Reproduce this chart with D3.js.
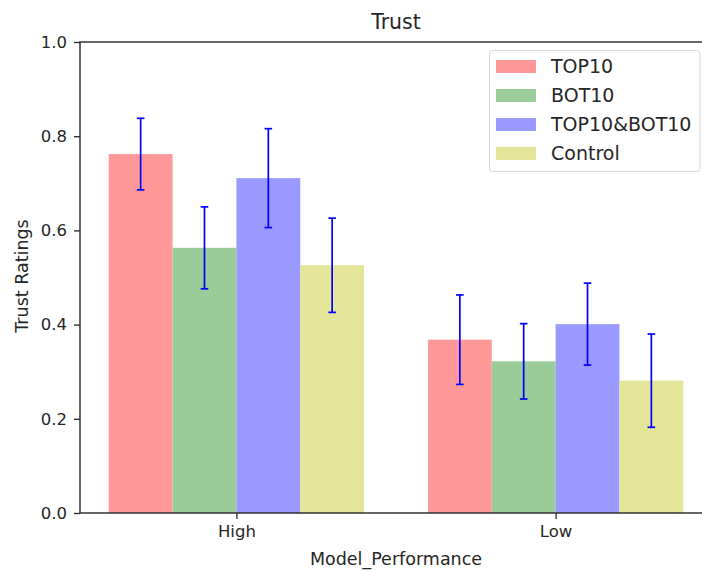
<!DOCTYPE html>
<html><head><meta charset="utf-8">
<script src="https://cdn.jsdelivr.net/npm/d3@7"></script>
<style>
html,body{margin:0;padding:0;background:#fff;}
text{font-family:"DejaVu Sans",sans-serif;fill:#262626;}
</style></head>
<body><svg id="c" width="702" height="570"></svg>
<script>
const categories = ["High", "Low"];
const seriesNames = ["TOP10", "BOT10", "TOP10&BOT10", "Control"];
const top10 = [0.762, 0.368];
const bot10 = [0.563, 0.322];
const both = [0.711, 0.401];
const control = [0.526, 0.281];
const top10Err = [0.076, 0.095];
const bot10Err = [0.087, 0.080];
const bothErr = [0.105, 0.087];
const controlErr = [0.100, 0.099];
const yTicks = [0.0, 0.2, 0.4, 0.6, 0.8, 1.0];
const colors = ["#ff9999", "#99cc99", "#9999ff", "#e5e599"];

(function () {
const values = [top10, bot10, both, control];
const errs = [top10Err, bot10Err, bothErr, controlErr];
const barW = 0.2;

const svg = d3.select("#c");
const mLeft = 80, mRight = 712, mTop = 42, mBottom = 513;
const x = d3.scaleLinear().domain([-0.49, categories.length - 1 + 0.49]).range([mLeft, mRight]);
const y = d3.scaleLinear().domain([0, 1]).range([mBottom, mTop]);

// bars
const g = svg.append("g");
seriesNames.forEach((s, j) => {
  categories.forEach((c, i) => {
    const cx = i + (j - 1.5) * barW;
    g.append("rect")
      .attr("x", x(cx - barW / 2))
      .attr("width", x(cx + barW / 2) - x(cx - barW / 2))
      .attr("y", y(values[j][i]))
      .attr("height", y(0) - y(values[j][i]))
      .attr("fill", colors[j]);
  });
});
// error bars
seriesNames.forEach((s, j) => {
  categories.forEach((c, i) => {
    const cx = x(i + (j - 1.5) * barW);
    const lo = y(values[j][i] - errs[j][i]), hi = y(values[j][i] + errs[j][i]);
    g.append("line").attr("x1", cx).attr("x2", cx).attr("y1", lo).attr("y2", hi)
      .attr("stroke", "#0000ff").attr("stroke-width", 1.7);
    [lo, hi].forEach(yy => g.append("line").attr("x1", cx - 3.8).attr("x2", cx + 3.8)
      .attr("y1", yy).attr("y2", yy).attr("stroke", "#0000ff").attr("stroke-width", 1.7));
  });
});

// axes
const yAxis = d3.axisLeft(y).tickValues(yTicks).tickFormat(d3.format(".1f")).tickSize(6).tickPadding(7);
const ya = svg.append("g").attr("transform", `translate(${mLeft},0)`).call(yAxis);
ya.selectAll("text").style("font-size", "16.5px").attr("fill", "#262626");
const xAxis = d3.axisBottom(x).tickValues(categories.map((c, i) => i)).tickFormat(i => categories[i]).tickSize(6).tickPadding(6);
const xa = svg.append("g").attr("transform", `translate(0,${mBottom})`).call(xAxis);
xa.selectAll("text").style("font-size", "16.5px").attr("fill", "#262626");
[ya, xa].forEach(a => {
  a.select(".domain").remove();
  a.selectAll(".tick line").attr("stroke", "#262626").attr("stroke-width", 1.3);
});
// spines
const sp = svg.append("g").attr("stroke", "#262626").attr("stroke-width", 1.4).attr("fill", "none");
sp.append("rect").attr("x", mLeft).attr("y", mTop).attr("width", mRight - mLeft).attr("height", mBottom - mTop);

// title & labels
svg.append("text").attr("x", (mLeft + mRight) / 2).attr("y", 29).attr("text-anchor", "middle")
  .style("font-size", "20.5px").text("Trust");
svg.append("text").attr("x", (mLeft + mRight) / 2).attr("y", 565).attr("text-anchor", "middle")
  .style("font-size", "17.5px").text("Model_Performance");
svg.append("text").attr("transform", "translate(28,276) rotate(-90)").attr("text-anchor", "middle")
  .style("font-size", "17.5px").text("Trust Ratings");

// legend
const lg = svg.append("g");
lg.append("rect").attr("x", 489.5).attr("y", 50.5).attr("width", 210.5).attr("height", 121)
  .attr("rx", 3).attr("fill", "#fff").attr("fill-opacity", 0.85).attr("stroke", "#d8d8d8");
seriesNames.forEach((s, j) => {
  const cy = 66.5 + j * 29;
  lg.append("rect").attr("x", 496).attr("y", cy - 6.5).attr("width", 40).attr("height", 13).attr("fill", colors[j]);
  lg.append("text").attr("x", 551).attr("y", cy).attr("dy", "0.36em").style("font-size", "19px").text(s);
});
})();
</script></body></html>
